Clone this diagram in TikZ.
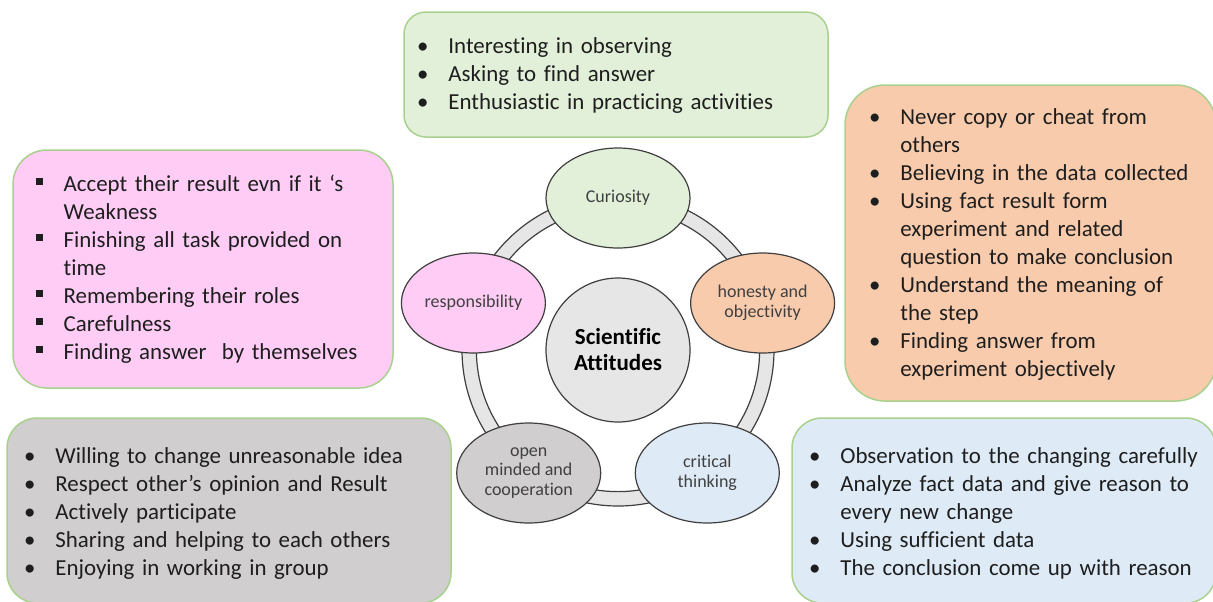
\documentclass[tikz,border=0pt]{standalone}
\usepackage{fontspec}
\setmainfont{Carlito}[Ligatures=NoCommon]
\usetikzlibrary{shapes.geometric, positioning}

\definecolor{curfill}{HTML}{E2F0D9}
\definecolor{resfill}{HTML}{FFCCF5}
\definecolor{honfill}{HTML}{F8CBAD}
\definecolor{opnfill}{HTML}{D0CECE}
\definecolor{crifill}{HTML}{DEEBF7}
\definecolor{corefill}{HTML}{E7E6E6}
\definecolor{panelline}{HTML}{A9D18E}
\definecolor{ringline}{HTML}{3F3F3F}
\definecolor{attrtext}{HTML}{404040}
\definecolor{listtext}{HTML}{1E1E1E}

% round and square bullets, hung left of the text
\newcommand\bl{\leavevmode\llap{\makebox[6pt][c]{\textbullet}\hspace{9.75pt}}}
\newcommand\sq{\leavevmode\llap{\makebox[6pt][c]{\raisebox{3.4pt}{\rule{3.6pt}{3.6pt}}}\hspace{9.2pt}}}

\tikzset{
  panel/.style={draw=panelline, line width=0.75pt, inner sep=0pt},
  attr/.style={ellipse, draw=ringline, line width=0.6pt, minimum width=72pt, minimum height=50pt,
    inner sep=0pt, align=center, text=attrtext, font=\fontsize{9}{9.8}\selectfont},
  list/.style={anchor=base west, inner sep=0pt, text width=200pt, align=left, text=listtext,
    font=\fontsize{11.45}{14}\selectfont},
}

\begin{document}
\begin{tikzpicture}[x=0.5pt, y=-0.5pt]

        \useasboundingbox (0,0) rectangle (1213,601);
        \clip (0,0) rectangle (1213,601);
        \fill[white] (0,0) rectangle (1213,601);

        % Curiosity box
        \node[panel, fill=curfill, rounded corners=11pt, minimum width=212pt, minimum height=62.5pt] (curbox) at (616,74.5) {};
        \node[list] (curtext) at (448,53) {\bl Interesting in observing\\
            \bl Asking to find answer\\
            \bl Enthusiastic in practicing activities};

        % Responsibility box
        \node[panel, fill=resfill, rounded corners=17pt, minimum width=190pt, minimum height=119pt] (resbox) at (203,269) {};
        \node[list] (restext) at (63.3,191.5) {\sq Accept their result evn if it ‘s\\
            Weakness\\
            \sq Finishing all task provided on\\
            time\\
            \sq Remembering their roles\\
            \sq Carefulness\\
            \sq Finding answer\ \ by themselves};

        % Honesty box
        \node[panel, fill=honfill, rounded corners=20pt, minimum width=185.5pt, minimum height=158pt] (honbox) at (1030.5,243) {};
        \node[list] (hontext) at (900,124) {\bl Never copy or cheat from\\
            others\\
            \bl Believing in the data collected\\
            \bl Using fact result form\\
            experiment and related\\
            question to make conclusion\\
            \bl Understand the meaning of\\
            the step\\
            \bl Finding answer from\\
            experiment objectively};

        % Open minded box
        \node[panel, fill=opnfill, rounded corners=15pt, minimum width=222pt, minimum height=92.5pt] (opnbox) at (229,510.5) {};
        \node[list] (opntext) at (55,463) {\bl Willing to change unreasonable idea\\
            \bl Respect other’s opinion and Result\\
            \bl Actively participate\\
            \bl Sharing and helping to each others\\
            \bl Enjoying in working in group};

        % Critical thinking box
        \node[panel, fill=crifill, rounded corners=15pt, minimum width=212pt, minimum height=92.5pt] (cribox) at (1004,510.5) {};
        \node[list] (critext) at (840,463) {\bl Observation to the changing carefully\\
            \bl Analyze fact data and give reason to\\
            every new change\\
            \bl Using sufficient data\\
            \bl The conclusion come up with reason};

        % Ring
        \coordinate (mid) at (618,350);
        \fill[corefill, even odd rule] (mid) circle (78pt) circle (70.8pt);
        \draw[ringline, line width=0.6pt] (mid) circle (78pt);
        \draw[ringline, line width=0.6pt] (mid) circle (70.8pt);

        % Attitudes
        \node[attr, fill=curfill] (cur) at (618,198) {Curiosity};
        \node[attr, fill=honfill] (hon) at (762.6,303) {honesty and\\objectivity};
        \node[attr, fill=crifill] (cri) at (707.3,473) {critical\\thinking};
        \node[attr, fill=opnfill] (opn) at (528.7,473) {open\\minded and\\cooperation};
        \node[attr, fill=resfill] (res) at (473.4,303) {responsibility};

        % Center
        \node[circle, draw=ringline, line width=0.6pt, fill=corefill, minimum size=72pt, inner sep=0pt,
            align=center, font=\fontsize{11.5}{13}\selectfont\bfseries] (core) at (mid) {Scientific\\Attitudes};

    \end{tikzpicture}
\end{document}
